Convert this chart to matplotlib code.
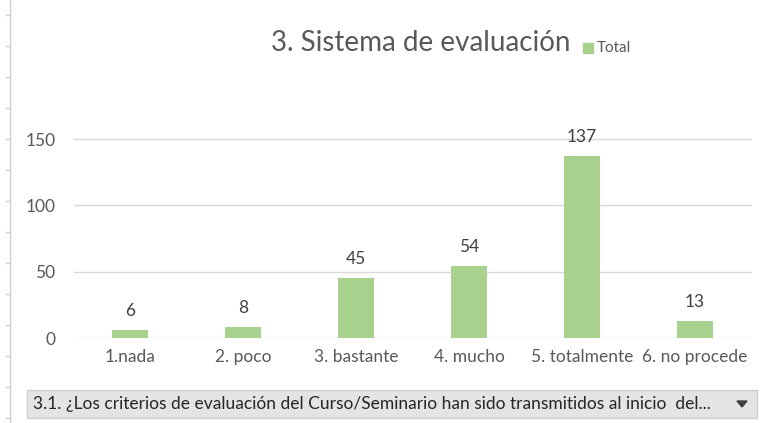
import matplotlib
matplotlib.use("Agg")
import matplotlib.pyplot as plt
from matplotlib.lines import Line2D
from matplotlib.patches import Rectangle, Polygon

categorias = ["1.nada", "2. poco", "3. bastante", "4. mucho", "5. totalmente", "6. no procede"]
valores = [6, 8, 45, 54, 137, 13]
ticks_y = [0, 50, 100, 150]
titulo = "3. Sistema de evaluación"
leyenda = "Total"
pregunta = "3.1. ¿Los criterios de evaluación del Curso/Seminario han sido transmitidos al inicio  del..."

plt.rcParams['font.family'] = ['Lato', 'DejaVu Sans']
W, H = 764, 423
verde = "#a9d18e"
gris_txt = "#595959"

fig = plt.figure(figsize=(W / 100, H / 100), dpi=100)

# area del grafico en pixeles
x0, x1, y_cero, y_top = 73.5, 751.5, 338, 110
ax = fig.add_axes([x0 / W, 1 - y_cero / H, (x1 - x0) / W, (y_cero - y_top) / H])
x = range(len(categorias))
ax.bar(x, valores, width=0.32, color=verde, zorder=3)
ax.set_xlim(-0.5, len(categorias) - 0.5)
ax.set_ylim(0, (y_cero - y_top) / ((y_cero - 139) / 150))
ax.set_yticks(ticks_y)
ax.set_xticks(list(x))
ax.set_xticklabels(categorias, fontsize=12.5, color=gris_txt)
ax.tick_params(axis='y', labelsize=12.5, labelcolor=gris_txt, length=0, pad=13)
ax.tick_params(axis='x', length=0, pad=8)
ax.grid(axis='y', color="#d9d9d9", linewidth=1, zorder=0)
for s in ax.spines.values():
    s.set_visible(False)

for i, v in enumerate(valores):
    ax.annotate(str(v), (i, v), xytext=(0, 8), textcoords="offset points",
                ha="center", va="bottom", fontsize=12.5, color="#404040")

# titulo y leyenda
fig.text(421 / W, 1 - 43 / H, titulo, ha="center", va="center", fontsize=20, color=gris_txt)
fig.add_artist(Rectangle((583 / W, 1 - 53 / H), 10 / W, 10 / H, color=verde, transform=fig.transFigure))
fig.text(597 / W, 1 - 48 / H, leyenda, ha="left", va="center", fontsize=11, color=gris_txt)

# linea vertical izquierda con marcas
fig.add_artist(Line2D([10 / W, 10 / W], [0, 1], color="#d0d0d0", linewidth=1))
for yy in range(15, 423, 31):
    fig.add_artist(Line2D([6 / W, 10 / W], [1 - yy / H, 1 - yy / H], color="#d0d0d0", linewidth=1))

# desplegable inferior
fig.add_artist(Rectangle((27 / W, 1 - 418 / H), 730 / W, 28 / H, facecolor="#e4e4e4",
                         edgecolor="#cfcfcf", linewidth=1, transform=fig.transFigure))
fig.text(33 / W, 1 - 404 / H, pregunta, ha="left", va="center", fontsize=12.5, color="#262626")
fig.add_artist(Polygon([(737 / W, 1 - 401 / H), (747 / W, 1 - 401 / H), (742 / W, 1 - 407 / H)],
                       closed=True, color="#404040", transform=fig.transFigure))

fig.savefig("out.png", dpi=100)
